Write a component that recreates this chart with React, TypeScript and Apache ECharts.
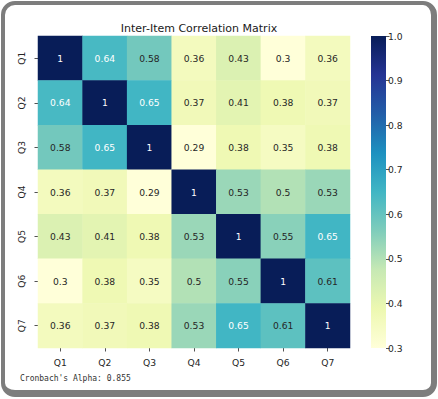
import React, { useEffect, useRef } from "react";
import * as echarts from "echarts";

const items = ["Q1", "Q2", "Q3", "Q4", "Q5", "Q6", "Q7"];
const rowQ1 = [1, 0.64, 0.58, 0.36, 0.43, 0.3, 0.36];
const rowQ2 = [0.64, 1, 0.65, 0.37, 0.41, 0.38, 0.37];
const rowQ3 = [0.58, 0.65, 1, 0.29, 0.38, 0.35, 0.38];
const rowQ4 = [0.36, 0.37, 0.29, 1, 0.53, 0.5, 0.53];
const rowQ5 = [0.43, 0.41, 0.38, 0.53, 1, 0.55, 0.65];
const rowQ6 = [0.3, 0.38, 0.35, 0.5, 0.55, 1, 0.61];
const rowQ7 = [0.36, 0.37, 0.38, 0.53, 0.65, 0.61, 1];
const matrix = [rowQ1, rowQ2, rowQ3, rowQ4, rowQ5, rowQ6, rowQ7];
const vMin = 0.3;
const vMax = 1.0;
const colorbarTicks = [0.3, 0.4, 0.5, 0.6, 0.7, 0.8, 0.9, 1.0];
const alphaText = "Cronbach's Alpha: 0.855";
const titleText = "Inter-Item Correlation Matrix";

const ylgnbu = ["#ffffd9", "#edf8b1", "#c7e9b4", "#7fcdbb", "#41b6c4", "#1d91c0", "#225ea8", "#253494", "#081d58"];

const TEXT = "#262626";
const FONT = "DejaVu Sans";
const FS = 9.2;

export default function App() {
  const ref = useRef<HTMLDivElement>(null);
  useEffect(() => {
    if (!ref.current) return;
    const chart = echarts.init(ref.current, null, { renderer: "svg" });
    const data: any[] = [];
    matrix.forEach((row, r) => {
      row.forEach((v, c) => {
        data.push({
          value: [c, r, v],
          label: { color: v >= 0.62 ? "#ffffff" : TEXT },
        });
      });
    });
    const gradStops = ylgnbu
      .map((c, i) => ({ offset: 1 - i / (ylgnbu.length - 1), color: c }))
      .reverse();
    chart.setOption({
      animation: false,
      backgroundColor: "#ffffff",
      title: {
        text: titleText,
        left: 194,
        top: 18,
        textAlign: "center",
        textStyle: { fontFamily: FONT, fontSize: 11, fontWeight: "normal", color: "#1a1a1a" },
      },
      grid: [
        { left: 38, top: 36, width: 312, height: 312 },
        { left: 371, top: 36, width: 15, height: 312 },
      ],
      xAxis: [
        {
          type: "category",
          gridIndex: 0,
          data: items,
          position: "bottom",
          axisLine: { show: false },
          axisTick: { show: true, alignWithLabel: true, length: 3.5, lineStyle: { color: TEXT, width: 0.8 } },
          axisLabel: { margin: 10, fontFamily: FONT, fontSize: FS, color: TEXT },
          splitLine: { show: false },
        },
        { type: "category", gridIndex: 1, data: [colorbarTicks.length], show: false },
      ],
      yAxis: [
        {
          type: "category",
          gridIndex: 0,
          data: items,
          inverse: true,
          axisLine: { show: false },
          axisTick: { show: true, alignWithLabel: true, length: 3.5, lineStyle: { color: TEXT, width: 0.8 } },
          axisLabel: { margin: 12, rotate: 90, fontFamily: FONT, fontSize: FS, color: TEXT },
          splitLine: { show: false },
        },
        {
          type: "value",
          gridIndex: 1,
          position: "right",
          min: vMin,
          max: vMax,
          interval: 0.1,
          axisLine: { show: false },
          axisTick: { show: true, length: 3.5, lineStyle: { color: TEXT, width: 0.8 } },
          axisLabel: {
            margin: 2,
            fontFamily: FONT,
            fontSize: FS,
            color: TEXT,
            formatter: (v: number) => v.toFixed(1),
          },
          splitLine: { show: false },
        },
      ],
      visualMap: {
        type: "continuous",
        show: false,
        min: vMin,
        max: vMax,
        seriesIndex: 0,
        dimension: 2,
        inRange: { color: ylgnbu },
        outOfRange: { color: [ylgnbu[0]] },
      },
      series: [
        {
          type: "heatmap",
          xAxisIndex: 0,
          yAxisIndex: 0,
          data,
          label: {
            show: true,
            fontFamily: FONT,
            fontSize: FS,
            formatter: (p: any) => String(p.value[2]),
          },
          itemStyle: { borderWidth: 0 },
          emphasis: { disabled: true },
        },
        {
          type: "bar",
          xAxisIndex: 1,
          yAxisIndex: 1,
          stack: "cb",
          data: [vMin],
          barWidth: "100%",
          itemStyle: { color: "rgba(0,0,0,0)" },
          silent: true,
        },
        {
          type: "bar",
          xAxisIndex: 1,
          yAxisIndex: 1,
          stack: "cb",
          data: [vMax - vMin],
          barWidth: "100%",
          itemStyle: { color: new echarts.graphic.LinearGradient(0, 0, 0, 1, gradStops) },
          silent: true,
        },
      ],
      graphic: [
        {
          type: "text",
          x: 20,
          y: 378,
          style: {
            text: alphaText,
            font: '8px "DejaVu Sans Mono"',
            fill: "#333333",
            verticalAlign: "middle",
            align: "left",
          },
        },
      ],
    });
    return () => chart.dispose();
  }, []);
  return (
    <div style={{ position: "fixed", left: 0, top: 0, width: 438, height: 399, background: "#fff" }}>
      <div ref={ref} style={{ position: "absolute", left: 0, top: 0, width: 438, height: 399 }} />
      <div
        style={{
          position: "absolute",
          left: 1,
          top: 1,
          width: 436,
          height: 396,
          boxSizing: "border-box",
          borderStyle: "solid",
          borderColor: "#7d7d7d",
          borderWidth: "4px 6px 7px 4px",
          borderRadius: 14,
          pointerEvents: "none",
        }}
      />
    </div>
  );
}
